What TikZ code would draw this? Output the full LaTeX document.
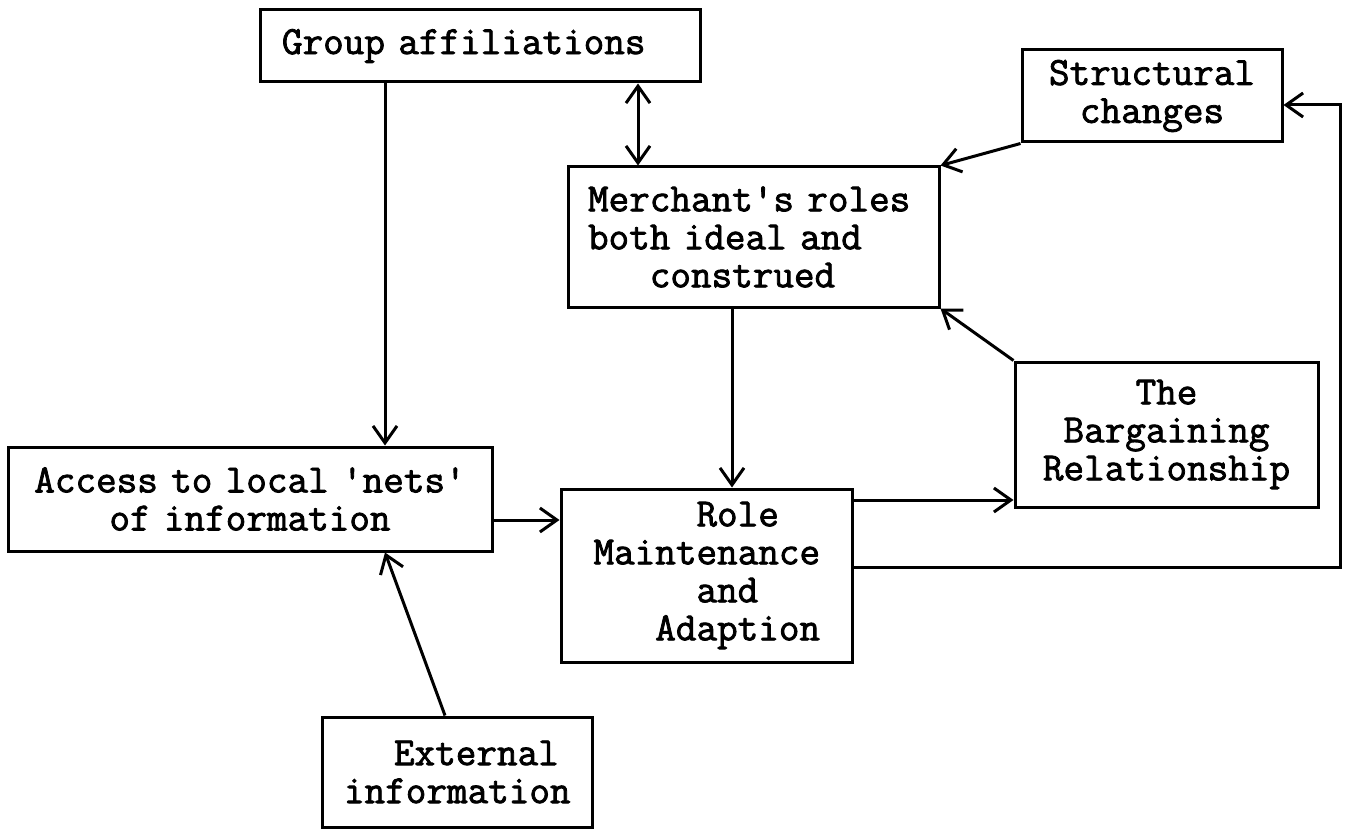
\documentclass[tikz,border=0pt]{standalone}
\usepackage{fontspec}
\newfontfamily\tw{Latin Modern Mono}[FakeBold=2]
\usetikzlibrary{arrows.meta}
\begin{document}
\begin{tikzpicture}[x=1pt,y=-1pt,
  box/.style={draw,line width=3pt,rectangle,inner ysep=0pt,
    font=\tw\fontsize{40}{38}\selectfont},
  arr/.style={line width=3pt,-{Straight Barb[length=17pt,width=24pt]}},
  darr/.style={line width=3pt,{Straight Barb[length=17pt,width=24pt]}-{Straight Barb[length=17pt,width=24pt]}}]
\useasboundingbox (0,0) rectangle (1347,837);
% boxes
\node[box,minimum width=440pt,minimum height=72pt,inner xsep=22pt,text width=396pt,align=left]
  (g) at (480,46) {Group affiliations};
\node[box,minimum width=371pt,minimum height=140pt,inner xsep=20pt,text width=331pt,align=left]
  (m) at (753.5,237) {Merchant's roles\\both ideal and\\\phantom{xxx}construed};
\node[box,minimum width=260pt,minimum height=92pt,inner xsep=20pt,text width=220pt,align=center]
  (s) at (1152,96) {Structural\\changes};
\node[box,minimum width=303pt,minimum height=145pt,inner xsep=20pt,text width=263pt,align=center]
  (b) at (1166.5,434.5) {The\\Bargaining\\Relationship};
\node[box,minimum width=484pt,minimum height=104pt,inner xsep=17pt,text width=450pt,align=center]
  (acc) at (250,499) {Access to local 'nets'\\of information};
\node[box,minimum width=291pt,minimum height=173pt,inner xsep=32.5pt,text width=226pt,align=left]
  (r) at (706.5,575.5) {\phantom{xxxxx}Role\\Maintenance\\\phantom{xxxxx}and\\\phantom{xxx}Adaption};
\node[box,minimum width=270pt,minimum height=110pt,inner xsep=22pt,text width=226pt,align=left]
  (e) at (457,772) {\hspace*{50pt}External\\information};
% helper coordinates
\coordinate (x385) at (385,0);
\coordinate (x445) at (445,0);
\coordinate (x638) at (638,0);
\coordinate (x732) at (732,0);
\coordinate (y500) at (0,500);
\coordinate (y520) at (0,520);
\coordinate (fb1) at (1340,567);
\coordinate (fb2) at (1340,105);
% connectors
\draw[arr] (g.south -| x385) -- (acc.north -| x385);
\draw[darr] (g.south -| x638) -- (m.north -| x638);
\draw[arr] (s.south west) -- (m.north east);
\draw[arr] (b.north west) -- (m.south east);
\draw[arr] (m.south -| x732) -- (r.north -| x732);
\draw[arr] (acc.east |- y520) -- (r.west |- y520);
\draw[arr] (r.east |- y500) -- (b.west |- y500);
\draw[arr] (r.east |- fb1) -- (fb1) -- (fb2) -- (s.east |- fb2);
\draw[arr] (e.north -| x445) -- (acc.south -| x385);
\end{tikzpicture}
\end{document}
